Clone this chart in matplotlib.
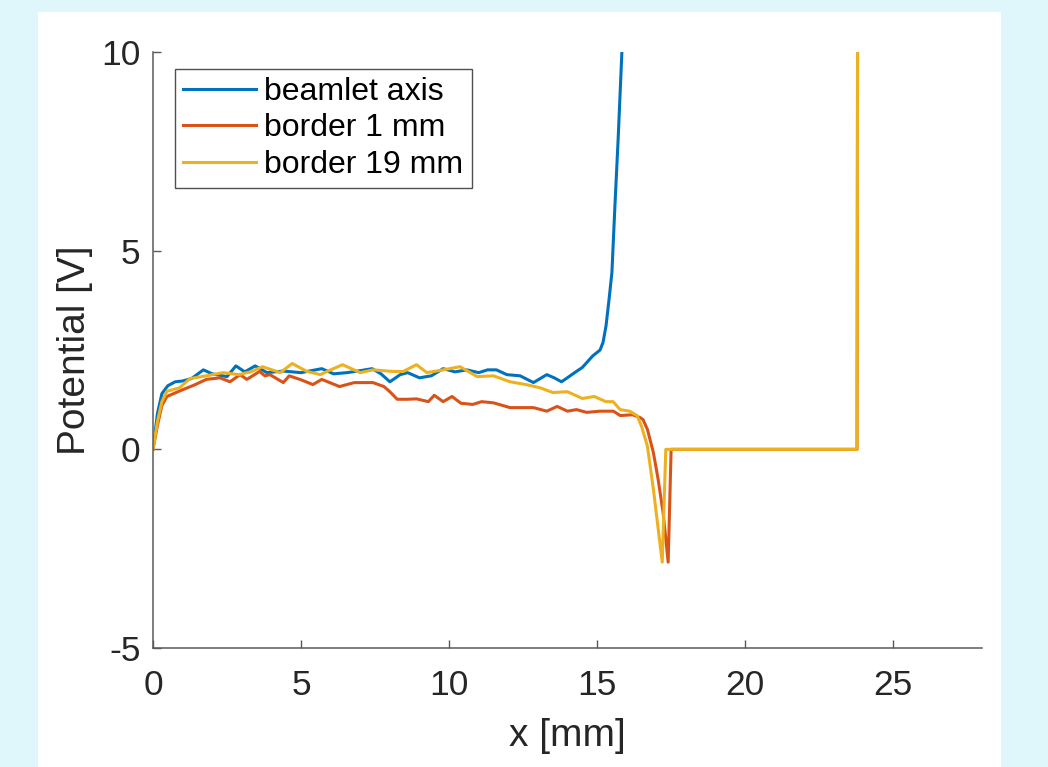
import matplotlib
matplotlib.use("Agg")
import matplotlib.pyplot as plt
from matplotlib.patches import Rectangle

plt.rcParams['font.family'] = ['Liberation Sans', 'DejaVu Sans']
plt.rcParams['axes.unicode_minus'] = False

# beamlet axis
x_axis = [0, 0.15, 0.3, 0.5, 0.75, 1.0, 1.3, 1.7, 2.0, 2.5, 2.8, 3.1, 3.45, 3.85, 4.4,
          5.0, 5.7, 6.1, 6.55, 7.0, 7.4, 7.7, 8.0, 8.35, 8.6, 9.0, 9.4, 9.8, 10.2, 10.6,
          11.0, 11.3, 11.6, 11.95, 12.4, 12.85, 13.3, 13.55, 13.8, 14.3, 14.5, 14.85,
          15.1, 15.2, 15.3, 15.4, 15.5, 15.6, 15.71, 15.84, 15.9]
y_axis = [0, 0.9, 1.4, 1.6, 1.7, 1.72, 1.78, 2.0, 1.9, 1.83, 2.1, 1.95, 2.1, 1.93, 1.97,
          1.93, 2.03, 1.9, 1.93, 1.98, 2.03, 1.9, 1.7, 1.88, 1.93, 1.8, 1.85, 2.03, 1.95,
          2.0, 1.93, 2.0, 2.0, 1.88, 1.85, 1.68, 1.88, 1.8, 1.7, 1.96, 2.06, 2.35,
          2.5, 2.69, 3.1, 3.75, 4.45, 6.1, 7.8, 10.05, 11.0]

# border 1 mm
x_b1 = [0, 0.15, 0.3, 0.47, 0.75, 1.0, 1.4, 1.8, 2.26, 2.6, 2.94, 3.17, 3.6, 3.78, 3.95,
        4.4, 4.6, 5.0, 5.4, 5.7, 6.3, 6.8, 7.43, 7.8, 8.0, 8.25, 8.6, 8.9, 9.3, 9.5,
        9.8, 10.1, 10.4, 10.8, 11.1, 11.5, 12.06, 12.4, 12.85, 13.3, 13.65, 14.0, 14.3,
        14.65, 15.1, 15.55, 15.78, 16.2, 16.45, 16.55, 16.7, 16.9, 17.06, 17.23, 17.4,
        17.5, 23.78, 23.8]
y_b1 = [0, 0.6, 1.1, 1.33, 1.42, 1.5, 1.62, 1.76, 1.8, 1.7, 1.88, 1.76, 1.96, 1.85, 1.88,
        1.68, 1.85, 1.75, 1.63, 1.76, 1.58, 1.68, 1.68, 1.58, 1.45, 1.26, 1.26, 1.27,
        1.2, 1.36, 1.2, 1.33, 1.16, 1.13, 1.2, 1.17, 1.05, 1.05, 1.05, 0.96, 1.08, 0.96,
        1.0, 0.93, 0.96, 0.96, 0.85, 0.87, 0.8, 0.75, 0.5, -0.08, -0.75, -1.6, -2.84,
        0, 0, 12]

# border 19 mm
x_b19 = [0, 0.15, 0.3, 0.47, 0.9, 1.25, 1.8, 2.37, 2.9, 3.3, 3.7, 4.3, 4.7, 5.2, 5.65,
         6.0, 6.4, 7.0, 7.43, 8.1, 8.45, 8.9, 9.25, 9.8, 10.37, 10.95, 11.5, 12.06, 12.6,
         13.07, 13.5, 14.0, 14.5, 14.9, 15.3, 15.54, 15.78, 16.1, 16.35, 16.5, 16.7,
         16.9, 17.2, 17.32, 23.78, 23.8]
y_b19 = [0, 0.7, 1.2, 1.46, 1.55, 1.78, 1.85, 1.93, 1.88, 1.95, 2.08, 1.93, 2.16, 1.96,
         1.88, 2.0, 2.13, 1.93, 2.0, 1.96, 1.96, 2.13, 1.93, 2.0, 2.08, 1.83, 1.85, 1.7,
         1.63, 1.55, 1.43, 1.45, 1.28, 1.33, 1.2, 1.2, 1.0, 0.96, 0.85, 0.58, 0.08, -1.0,
         -2.84, 0, 0, 12]

labels = ['beamlet axis', 'border 1 mm', 'border 19 mm']
colors = ['#0072BD', '#D95319', '#EDB120']

fig = plt.figure(figsize=(10.48, 7.67), dpi=100, facecolor='#dff7fb')
# white panel behind the axes
panel = Rectangle((38 / 1048, 0), (1001 - 38) / 1048, (767 - 12) / 767,
                  transform=fig.transFigure, facecolor='white',
                  edgecolor='none', zorder=-10)
fig.add_artist(panel)

ax = fig.add_axes([153 / 1048, (767 - 648) / 767, (982 - 153) / 1048, (648 - 52) / 767])
ax.set_facecolor('white')

for xs, ys, lab, c in zip([x_axis, x_b1, x_b19], [y_axis, y_b1, y_b19], labels, colors):
    ax.plot(xs, ys, color=c, lw=2.2, label=lab)

ax.set_xlim(0, 28)
ax.set_ylim(-5, 10)
ax.set_xticks([0, 5, 10, 15, 20, 25])
ax.set_yticks([-5, 0, 5, 10])
ax.tick_params(direction='in', length=6, width=1, colors='#5a5a5a',
               labelcolor='#262626', labelsize=25.5)
ax.tick_params(axis='x', pad=15)
ax.tick_params(axis='y', pad=9)
for s in ['top', 'right']:
    ax.spines[s].set_visible(False)
for s in ['left', 'bottom']:
    ax.spines[s].set_color('#5a5a5a')
    ax.spines[s].set_linewidth(1.1)

ax.set_xlabel('x [mm]', fontsize=28, color='#262626', labelpad=12)
ax.set_ylabel('Potential [V]', fontsize=28, color='#262626', labelpad=6)

leg = ax.legend(loc='upper left', bbox_to_anchor=(0.0265, 0.9715), borderaxespad=0,
                fontsize=23, frameon=True, fancybox=False, edgecolor='#262626',
                handlelength=2.3, handletextpad=0.25, labelspacing=0.2,
                borderpad=0.25)
leg.get_frame().set_linewidth(1.0)

fig.savefig('out.png', dpi=100, facecolor=fig.get_facecolor())
